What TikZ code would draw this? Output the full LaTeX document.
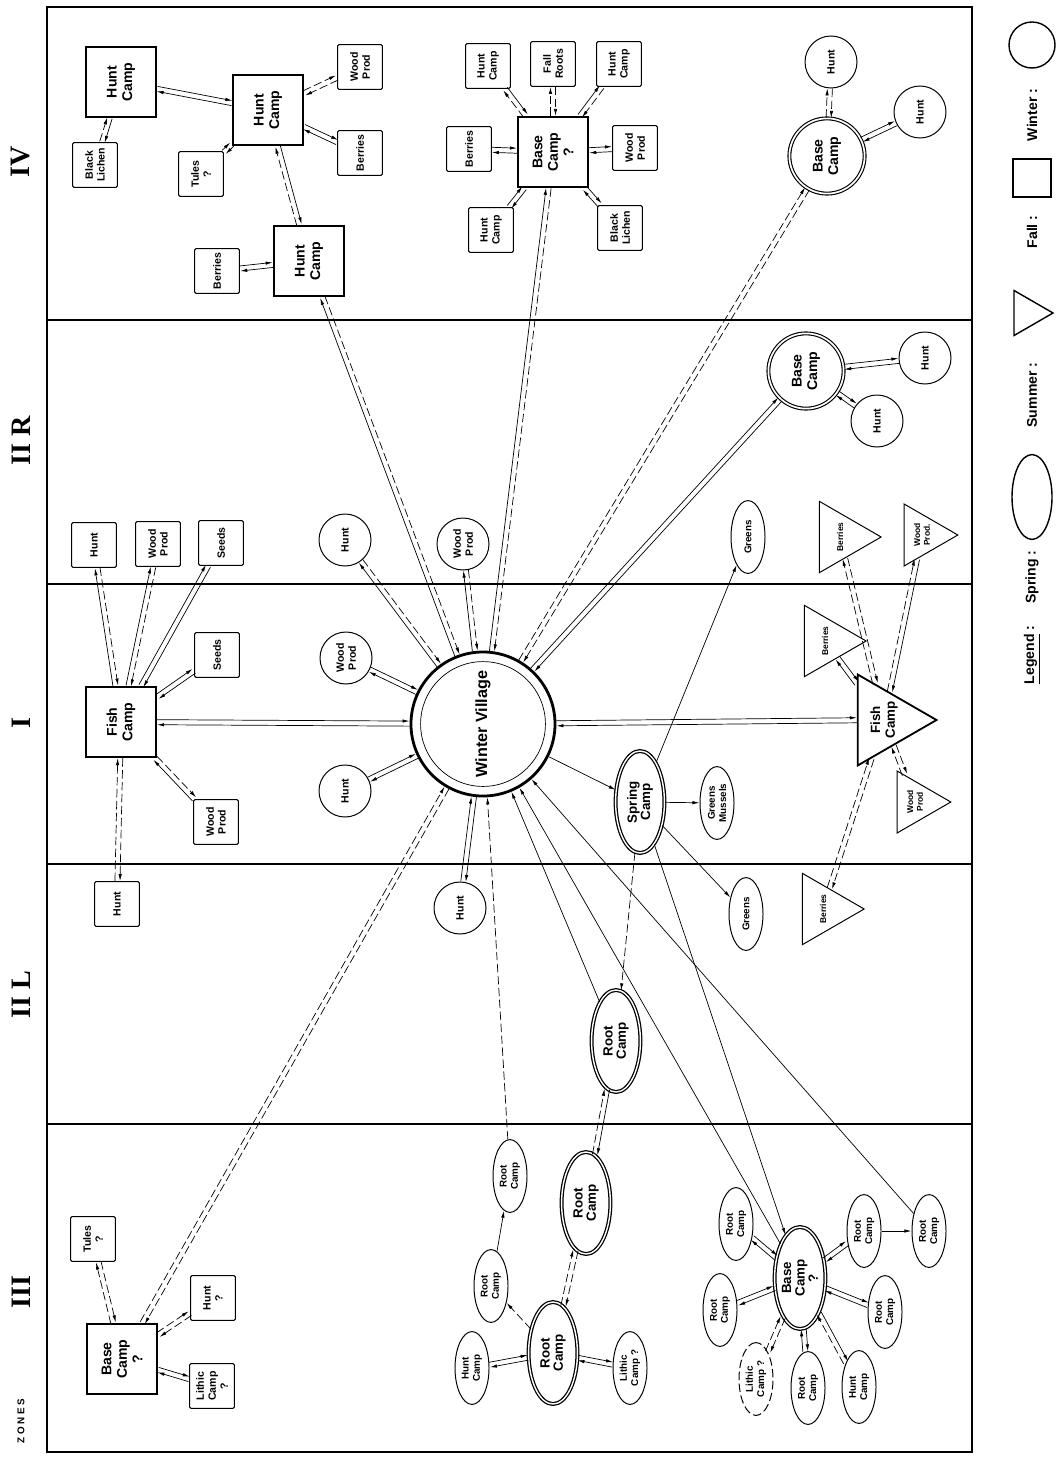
\documentclass[tikz,border=0pt]{standalone}
\usepackage{fontspec}
\setmainfont{Liberation Sans}
\newfontfamily\zonefont{Liberation Serif}
\usepackage{tikz}
\usetikzlibrary{shapes.geometric, arrows.meta, calc}

% two parallel links, one each way
\NewDocumentCommand{\twoway}{O{} O{} m m}{%
  \draw[link,#1,transform canvas={shift={($(#3)!1.8pt!90:(#4)-(#3)$)}}] (#3) -- (#4);
  \draw[link,#2,transform canvas={shift={($(#3)!1.8pt!-90:(#4)-(#3)$)}}] (#4) -- (#3);}

\begin{document}
\begin{tikzpicture}[x=0.025cm, y=-0.025cm,
    fallbig/.style={rectangle, draw, line width=1.5pt, minimum size=1.75cm, inner sep=1pt,
                    align=center, fill=white, rotate=90, font=\fontsize{10}{11}\selectfont\bfseries},
    fallsmall/.style={rectangle, draw, rounded corners=1pt, line width=0.7pt, minimum size=1.12cm,
                    inner sep=1pt, align=center, fill=white, rotate=90, font=\fontsize{7.5}{8.5}\selectfont\bfseries},
    wintersmall/.style={circle, draw, line width=0.7pt, minimum size=1.3cm, inner sep=0pt,
                    align=center, fill=white, rotate=90, font=\fontsize{7.5}{8.5}\selectfont\bfseries},
    winterbase/.style={circle, draw, double, double distance=1.2pt, line width=0.8pt, minimum size=1.88cm,
                    inner sep=0pt, align=center, rotate=90, font=\fontsize{10}{11}\selectfont\bfseries},
    springbig/.style={ellipse, draw, double, double distance=1pt, line width=0.9pt, minimum width=2.55cm,
                    minimum height=1.22cm, inner sep=0pt, align=center, rotate=90, font=\fontsize{9.5}{9.5}\selectfont\bfseries},
    springsmall/.style={ellipse, draw, line width=0.7pt, minimum width=1.82cm, minimum height=0.85cm,
                    inner sep=0pt, align=center, fill=white, rotate=90, font=\fontsize{7}{8}\selectfont\bfseries},
    summerbig/.style={regular polygon, regular polygon sides=3, shape border rotate=180, draw,
                    line width=1.3pt, minimum size=2.45cm, inner sep=0pt, align=center, fill=white,
                    rotate=90, font=\fontsize{9.5}{10.5}\selectfont\bfseries},
    summersmall/.style={regular polygon, regular polygon sides=3, shape border rotate=180, draw,
                    line width=0.7pt, minimum size=1.79cm, inner sep=0pt, align=center, fill=white,
                    rotate=90, font=\fontsize{6}{7}\selectfont\bfseries},
    zonelabel/.style={rotate=90, font=\zonefont\fontsize{20}{20}\selectfont\bfseries},
    legendtext/.style={rotate=90, font=\fontsize{10}{10}\selectfont\bfseries},
    link/.style={-{Latex[length=5pt,width=2.4pt]}, line width=0.5pt},
    unsure/.style={dash pattern=on 6pt off 2.5pt}]

\useasboundingbox (0,0) rectangle (1058,1459);

% frame and zones
\draw[line width=1pt] (47,7) rectangle (972,1452);
\foreach \zy in {320,584,864,1124}
  \draw[line width=1pt] (47,\zy) -- (972,\zy);

\node (zone4) [zonelabel] at (21,162)  {IV};
\node (zone2r)[zonelabel] at (21,441)  {II R};
\node (zone1) [zonelabel] at (21,723)  {I};
\node (zone2l)[zonelabel] at (21,995)  {II L};
\node (zone3) [zonelabel] at (21,1292) {III};
\node (zones) [rotate=90, font=\fontsize{7}{7}\selectfont\bfseries] at (21,1421) {Z O N E S};

% zone IV
\node (hunta)   [fallbig]   at (121,82)  {Hunt\\Camp};
\node (huntb)   [fallbig]   at (268,110) {Hunt\\Camp};
\node (huntc)   [fallbig]   at (309,261) {Hunt\\Camp};
\node (lichena) [fallsmall] at (95,165)  {Black\\Lichen};
\node (tulesa)  [fallsmall] at (201,174) {Tules\\?};
\node (wooda)   [fallsmall] at (360,67)  {Wood\\Prod};
\node (berrya)  [fallsmall] at (360,153) {Berries};
\node (berryb)  [fallsmall] at (217,271) {Berries};
\node (basea)   [fallbig]   at (553,152) {Base\\Camp\\?};
\node (huntcpa) [fallsmall] at (488,66)  {Hunt\\Camp};
\node (rootsa)  [fallsmall] at (553,64)  {Fall\\Roots};
\node (huntcpb) [fallsmall] at (619,64)  {Hunt\\Camp};
\node (berryc)  [fallsmall] at (469,149) {Berries};
\node (woodb)   [fallsmall] at (635,148) {Wood\\Prod};
\node (huntcpc) [fallsmall] at (491,230) {Hunt\\Camp};
\node (lichenb) [fallsmall] at (620,228) {Black\\Lichen};
\node (baseb)   [winterbase]  at (827,156) {Base\\Camp};
\node (hunto)   [wintersmall] at (831,62)  {Hunt};
\node (huntp)   [wintersmall] at (920,112) {Hunt};

% zone II R
\node (basec)   [winterbase]  at (806,371) {Base\\Camp};
\node (huntq)   [wintersmall] at (925,358) {Hunt};
\node (huntr)   [wintersmall] at (877,421) {Hunt};
\node (greensa) [springsmall] at (748,537) {Greens};
\node (berryd)  [summersmall] at (840,537) {Berries};
\node (woodc)   [summersmall] at (922,535) {Wood\\Prod.};
\node (woodd)   [wintersmall] at (463,544) {Wood\\Prod};
\node (hunts)   [wintersmall] at (345,540) {Hunt};
\node (huntbx)  [fallsmall]   at (94,545)  {Hunt};
\node (woode)   [fallsmall]   at (158,544) {Wood\\Prod};
\node (seedsa)  [fallsmall]   at (221,543) {Seeds};

% zone I
\node (wv) [circle, draw, line width=2pt, minimum size=3.6cm, fill=white, rotate=90,
            font=\fontsize{11.5}{12}\selectfont\bfseries] at (483,724) {Winter Village};
\node (wvin) [circle, draw, line width=0.5pt, minimum size=3.12cm] at (wv) {};
\node (seedsb)  [fallsmall]   at (217,655) {Seeds};
\node (fishbox) [fallbig]     at (121,722) {Fish\\Camp};
\node (woodf)   [wintersmall] at (346,658) {Wood\\Prod};
\node (huntt)   [wintersmall] at (345,791) {Hunt};
\node (woodg)   [fallsmall]   at (216,822) {Wood\\Prod};
\node (fishtri) [summerbig]   at (884,720) {Fish\\Camp};
\node (berrye)  [summersmall] at (825,641) {Berries};
\node (woodh)   [summersmall] at (915,802) {Wood\\Prod};
\node (spring)  [springbig]   at (640,802) {Spring\\Camp};
\node (mussels) [springsmall] at (717,803) {Greens\\Mussels};

% zone II L
\node (huntby)  [fallsmall]   at (117,904)  {Hunt};
\node (huntu)   [wintersmall] at (460,908)  {Hunt};
\node (greensb) [springsmall] at (746,914)  {Greens};
\node (berryf)  [summersmall] at (823,909)  {Berries};
\node (roota)   [springbig]   at (616,1041) {Root\\Camp};

% zone III
\node (basebox) [fallbig]     at (122,1359) {Base\\Camp\\?};
\node (tulesb)  [fallsmall]   at (93,1239)  {Tules\\?};
\node (huntq2)  [fallsmall]   at (213,1298) {Hunt\\?};
\node (lithica) [fallsmall]   at (212,1386) {Lithic\\Camp\\?};
\node (rootb)   [springsmall] at (510,1176) {Root\\Camp};
\node (rootc)   [springsmall] at (491,1286) {Root\\Camp};
\node (huntcpd) [springsmall] at (472,1368) {Hunt\\Camp};
\node (rootd)   [springbig]   at (586,1203) {Root\\Camp};
\node (roote)   [springbig]   at (553,1353) {Root\\Camp};
\node (lithicb) [springsmall] at (630,1368) {Lithic\\Camp ?};
\node (based)   [springbig]   at (800,1278) {Base\\Camp\\?};
\node (rootf)   [springsmall] at (736,1224) {Root\\Camp};
\node (rootg)   [springsmall] at (720,1310) {Root\\Camp};
\node (lithicc) [springsmall, unsure] at (756,1379) {Lithic\\Camp ?};
\node (rooth)   [springsmall] at (808,1388) {Root\\Camp};
\node (huntcpe) [springsmall] at (859,1387) {Hunt\\Camp};
\node (rooti)   [springsmall] at (885,1312) {Root\\Camp};
\node (rootj)   [springsmall] at (864,1231) {Root\\Camp};
\node (rootk)   [springsmall] at (929,1231) {Root\\Camp};

% legend
\node (legend)    [legendtext] at (1032,655) {\underline{Legend} :};
\node (springkey) [legendtext] at (1032,577) {Spring :};
\node (springsym) [ellipse, draw, line width=1pt, minimum width=2.12cm, minimum height=1cm, rotate=90] at (1032,497) {};
\node (summerkey) [legendtext] at (1032,395) {Summer :};
\node (summersym) [regular polygon, regular polygon sides=3, shape border rotate=180, draw,
                   line width=1pt, minimum size=1.3cm, rotate=90] at (1027,313) {};
\node (fallkey)   [legendtext] at (1032,232) {Fall :};
\node (fallsym)   [rectangle, draw, line width=1pt, minimum size=0.95cm] at (1032,178) {};
\node (winterkey) [legendtext] at (1032,115) {Winter :};
\node (wintersym) [circle, draw, line width=1pt, minimum size=1.15cm] at (1032,45) {};

% links in zone IV
\twoway{hunta}{huntb}
\twoway[][unsure]{hunta}{lichena}
\twoway[unsure][unsure]{huntb}{wooda}
\twoway{huntb}{berrya}
\twoway[unsure][unsure]{huntb}{tulesa}
\twoway[][unsure]{huntb}{huntc}
\twoway{huntc}{berryb}
\twoway[unsure][]{basea}{huntcpa}
\twoway[unsure][unsure]{basea}{rootsa}
\twoway[][unsure]{basea}{huntcpb}
\twoway{basea}{berryc}
\twoway{basea}{woodb}
\twoway{basea}{huntcpc}
\twoway{basea}{lichenb}
\twoway[unsure][unsure]{baseb}{hunto}
\twoway{baseb}{huntp}

% links to the winter village
\twoway[][unsure]{wv}{huntc}
\twoway[][unsure]{wv}{basea}
\twoway[unsure][unsure]{wv}{baseb}
\twoway{wv}{basec}
\twoway[][unsure]{wv}{hunts}
\twoway[][unsure]{wv}{woodd}
\twoway{wv}{woodf}
\twoway{wv}{fishbox}
\twoway{wv}{huntt}
\twoway{wv}{huntu}
\twoway[unsure][unsure]{wv}{basebox}
\twoway{wv}{fishtri}
\draw[link] (wv) -- (spring);
\draw[link, unsure] (rootb) -- (wv);
\draw[link] (roota) -- (wv);
\draw[link] (based) -- (wv);
\draw[link] (rootk) -- (wv);

% zone II R base camp
\twoway{basec}{huntq}
\twoway{basec}{huntr}

% fish camps
\twoway[][unsure]{fishbox}{huntbx}
\twoway[][unsure]{fishbox}{woode}
\twoway{fishbox}{seedsa}
\twoway{fishbox}{seedsb}
\twoway[unsure][]{fishbox}{woodg}
\twoway[unsure][unsure]{fishbox}{huntby}
\twoway{fishtri}{berrye}
\twoway[unsure][unsure]{fishtri}{berryd}
\twoway[unsure][]{fishtri}{woodc}
\twoway[unsure][unsure]{fishtri}{woodh}
\twoway[unsure][unsure]{fishtri}{berryf}

% spring camp
\draw[link] (spring) -- (mussels);
\draw[link] (spring) -- (greensb);
\draw[link] (spring) -- (greensa);
\draw[link, unsure] (spring) -- (roota);
\draw[link] (spring) -- (based);

% root camps
\twoway[][unsure]{roota}{rootd}
\twoway[unsure][unsure]{rootd}{roote}
\twoway{roote}{huntcpd}
\twoway{roote}{lithicb}
\draw[link, unsure] (roote) -- (rootc);
\draw[link] (rootc) -- (rootb);

% base camp, zone III (spring)
\twoway{based}{rootf}
\twoway{based}{rootg}
\twoway[unsure][unsure]{based}{lithicc}
\twoway{based}{rooth}
\twoway[][unsure]{based}{huntcpe}
\twoway{based}{rooti}
\twoway{based}{rootj}
\draw[link] (rootj) -- (rootk);

% base camp, zone III (fall)
\twoway[unsure][unsure]{basebox}{tulesb}
\twoway[unsure][unsure]{basebox}{huntq2}
\twoway{basebox}{lithica}
\end{tikzpicture}
\end{document}
